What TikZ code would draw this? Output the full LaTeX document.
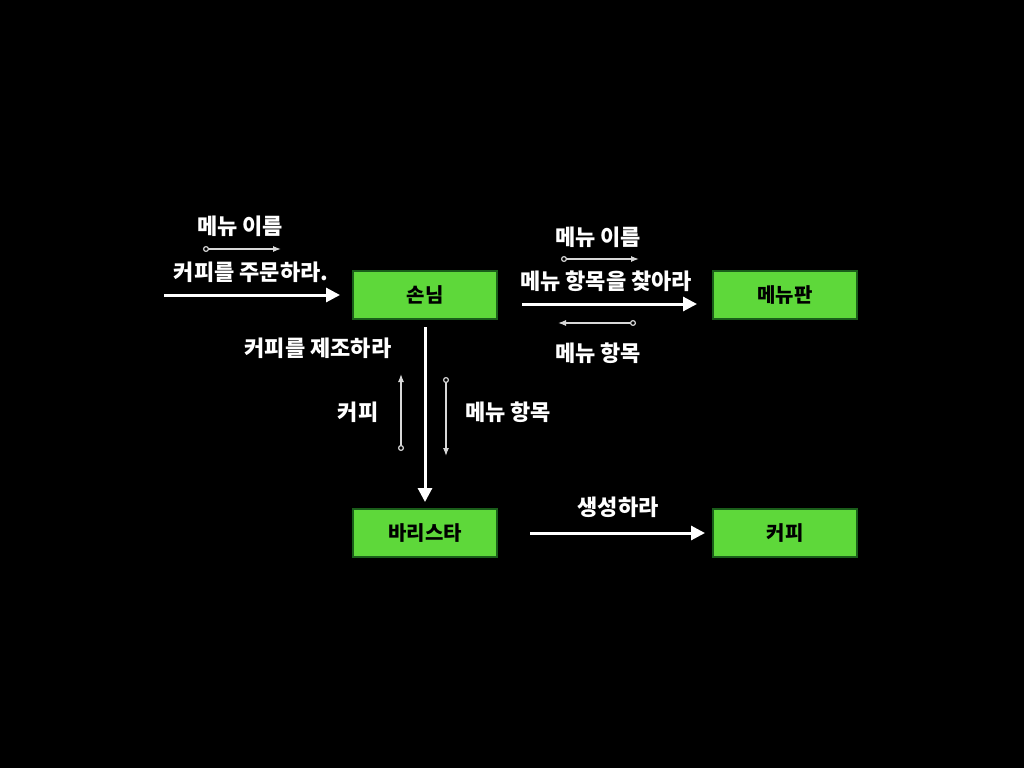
\documentclass[tikz,border=0pt]{standalone}
\usepackage{fontspec}
\newfontfamily\kr{Noto Sans CJK KR}
\usetikzlibrary{arrows.meta}
\definecolor{boxfill}{HTML}{5ED83A}
\definecolor{boxline}{HTML}{1A5E1A}
\definecolor{msg}{HTML}{D8D8D8}
\tikzset{
  obj/.style={draw=boxline, line width=2pt, fill=boxfill, minimum width=144pt, minimum height=48pt, inner sep=0pt, font=\kr\bfseries\fontsize{20}{22}\selectfont, text=black},
  lbl/.style={font=\kr\bfseries\fontsize{22}{24}\selectfont, text=white, inner sep=0pt},
  call/.style={draw=white, line width=3pt, -{Triangle[length=14pt,width=14pt]}},
  msgarrow/.style={draw=msg, line width=1.2pt, {Circle[open,length=6pt,width=6pt,fill=black]}-{Latex[length=8pt,width=6pt]}},
}
\begin{document}
\begin{tikzpicture}[x=1pt,y=-1pt]
\fill[black] (0,0) rectangle (1024,768);
\useasboundingbox (0,0) rectangle (1024,768);

\node[obj] (guest) at (425,295) {손님};
\node[obj] (menu) at (785,295) {메뉴판};
\node[obj] (barista) at (425,533) {바리스타};
\node[obj] (coffee) at (785,533) {커피};

% order coffee
\coordinate (start) at (164,295);
\draw[call] (start) -- ([xshift=-12pt]guest.west);
\node[lbl] (l1) at (251,272) {커피를 주문하라.};
\node[lbl] (l1a) at (240,226) {메뉴 이름};
\coordinate (m1s) at (203,249);
\coordinate (m1e) at (281,249);
\draw[msgarrow] (m1s) -- (m1e);

% find menu item
\draw[call] ([xshift=24pt,yshift=-9pt]guest.east) -- ([xshift=-15pt,yshift=-9pt]menu.west);
\node[lbl] (l2) at (606,281) {메뉴 항목을 찾아라};
\node[lbl] (l2a) at (598,237) {메뉴 이름};
\coordinate (m2s) at (561,259);
\coordinate (m2e) at (639,259);
\draw[msgarrow] (m2s) -- (m2e);
\node[lbl] (l2b) at (598,353) {메뉴 항목};
\coordinate (m3s) at (636,323);
\coordinate (m3e) at (558,323);
\draw[msgarrow] (m3s) -- (m3e);

% make coffee
\draw[call] ([yshift=-7pt]guest.south) -- ([yshift=6pt]barista.north);
\node[lbl] (l3) at (318,348) {커피를 제조하라};
\node[lbl] (l3a) at (358,412) {커피};
\coordinate (m4s) at (401,451);
\coordinate (m4e) at (401,374);
\draw[msgarrow] (m4s) -- (m4e);
\node[lbl] (l3b) at (508,412) {메뉴 항목};
\coordinate (m5s) at (446,377);
\coordinate (m5e) at (446,456);
\draw[msgarrow] (m5s) -- (m5e);

% create
\draw[call] ([xshift=32pt]barista.east) -- ([xshift=-7pt]coffee.west);
\node[lbl] (l4) at (618,507) {생성하라};
\end{tikzpicture}
\end{document}
